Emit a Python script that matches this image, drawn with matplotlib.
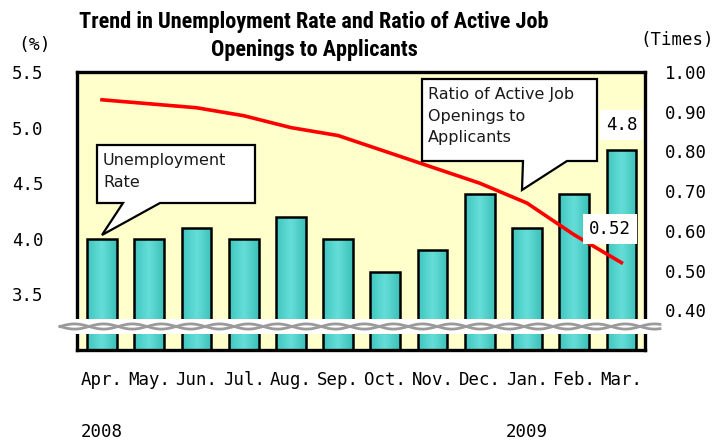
import numpy as np
import matplotlib
matplotlib.use('Agg')
import matplotlib.pyplot as plt
from matplotlib.patches import Polygon, Rectangle
from matplotlib.lines import Line2D
from matplotlib.colors import LinearSegmentedColormap

# data
months = ['Apr.', 'May.', 'Jun.', 'Jul.', 'Aug.', 'Sep.', 'Oct.', 'Nov.', 'Dec.', 'Jan.', 'Feb.', 'Mar.']
unemployment = [4.0, 4.0, 4.1, 4.0, 4.2, 4.0, 3.7, 3.9, 4.4, 4.1, 4.4, 4.8]
job_ratio = [0.93, 0.92, 0.91, 0.89, 0.86, 0.84, 0.80, 0.76, 0.72, 0.67, 0.59, 0.52]
years = ['2008', '2009']
year_pos = [0, 9]
left_ticks = [3.5, 4.0, 4.5, 5.0, 5.5]
right_ticks = [0.4, 0.5, 0.6, 0.7, 0.8, 0.9, 1.0]

W, H = 722, 441
MONO = 'DejaVu Sans Mono'
YMIN = 3.0


def px(x, y):
    # figure pixel (from top-left) -> figure fraction
    return (x / W, 1 - y / H)


fig = plt.figure(figsize=(W / 100, H / 100), dpi=100)
ax = fig.add_axes([77 / W, 1 - 350 / H, (645 - 77) / W, (350 - 72) / H])
ax.set_facecolor('#FFFFCC')

x = np.arange(len(months))
bars = ax.bar(x, unemployment, width=0.63, facecolor='none', edgecolor='black', linewidth=1.8, zorder=3)

# teal gradient inside every bar
cmap = LinearSegmentedColormap.from_list('teal', ['#3FC6BF', '#66DED8', '#3CC0B9'])
grad = np.linspace(0, 1, 64).reshape(1, -1)
for b in bars:
    x0, w, h = b.get_x(), b.get_width(), b.get_height()
    im = ax.imshow(grad, extent=[x0, x0 + w, YMIN, h], aspect='auto', cmap=cmap, zorder=2)
    im.set_clip_path(b)

ax.set_xlim(-0.53, 11.5)
ax.set_ylim(YMIN, 5.5)
ax.set_xticks(x)
ax.set_xticklabels(months, fontfamily=MONO, fontsize=12.5)
ax.set_yticks(left_ticks)
ax.set_yticklabels(['%.1f' % v for v in left_ticks], fontfamily=MONO, fontsize=12.5)
ax.tick_params(length=0)
ax.tick_params(axis='x', pad=15)
ax.tick_params(axis='y', pad=24)
for s in ax.spines.values():
    s.set_linewidth(2.4)

ax2 = ax.twinx()
ax2.plot(x, job_ratio, color='#FF0000', linewidth=2.6, zorder=4)
ax2.set_ylim(0.3, 1.0)
ax2.set_yticks(right_ticks)
ax2.set_yticklabels(['%.2f' % v for v in right_ticks], fontfamily=MONO, fontsize=12.5)
ax2.tick_params(length=0, pad=14)
for s in ax2.spines.values():
    s.set_visible(False)

# value labels
ax.annotate('4.8', xy=(x[-1], unemployment[-1]), xytext=(0, 18), textcoords='offset points',
            ha='center', va='center', fontfamily=MONO, fontsize=12.5, zorder=6,
            bbox=dict(boxstyle='square,pad=0.35', fc='white', ec='none'))
ax2.annotate('0.52', xy=(x[-1], job_ratio[-1]), xytext=(-8, 24), textcoords='offset points',
             ha='center', va='center', fontfamily=MONO, fontsize=12.5, zorder=6,
             bbox=dict(boxstyle='square,pad=0.35', fc='white', ec='none'))

# year labels under the months
for yr, p in zip(years, year_pos):
    ax.annotate(yr, xy=(p, 0), xycoords=('data', 'axes fraction'), xytext=(0, -59),
                textcoords='offset points', ha='center', va='center',
                fontfamily=MONO, fontsize=12.5, annotation_clip=False)

# axis unit labels
fig.text(*px(35, 45), '(%)', ha='center', va='center', fontfamily=MONO, fontsize=13)
fig.text(*px(677, 40), '(Times)', ha='center', va='center', fontfamily=MONO, fontsize=12.5)

# title (condensed bold face)
fig.text(*px(314, 36), 'Trend in Unemployment Rate and Ratio of Active Job\nOpenings to Applicants',
         ha='center', va='center',
         fontfamily=['Roboto Condensed', 'Liberation Sans Narrow', 'DejaVu Sans'],
         fontstretch='condensed', fontweight='bold', fontsize=16, linespacing=1.4)

# speech-bubble callouts
callouts = [
    ([(97, 145), (255, 145), (255, 203), (160, 203), (102, 235), (123, 203), (97, 203)],
     (103, 153), 'Unemployment\nRate'),
    ([(422, 79), (597, 79), (597, 161), (567, 161), (522, 190), (523, 161), (422, 161)],
     (428, 87), 'Ratio of Active Job\nOpenings to\nApplicants'),
]
for pts, tpos, txt in callouts:
    fig.patches.append(Polygon([px(*p) for p in pts], closed=True, fc='white', ec='black',
                               lw=1.6, transform=fig.transFigure, zorder=5))
    fig.text(*px(*tpos), txt, ha='left', va='top', fontsize=11.5, color='#1A1A1A',
             linespacing=1.55, zorder=6)

# axis break band
bx0, by0 = px(58, 334)
bx1, by1 = px(662, 319)
fig.patches.append(Rectangle((bx0, by0), bx1 - bx0, by1 - by0, fc='white', ec='none',
                             transform=fig.transFigure, zorder=5))
xs = np.linspace(60, 660, 600)
for ph in (0, np.pi):
    ys = 326.5 + 2.6 * np.sin(2 * np.pi * (xs - 60) / 58 + ph)
    fig.lines.append(Line2D(xs / W, 1 - ys / H, color='#9A9A9A', lw=2.0,
                            transform=fig.transFigure, zorder=6))

fig.savefig('out.png', dpi=100)
